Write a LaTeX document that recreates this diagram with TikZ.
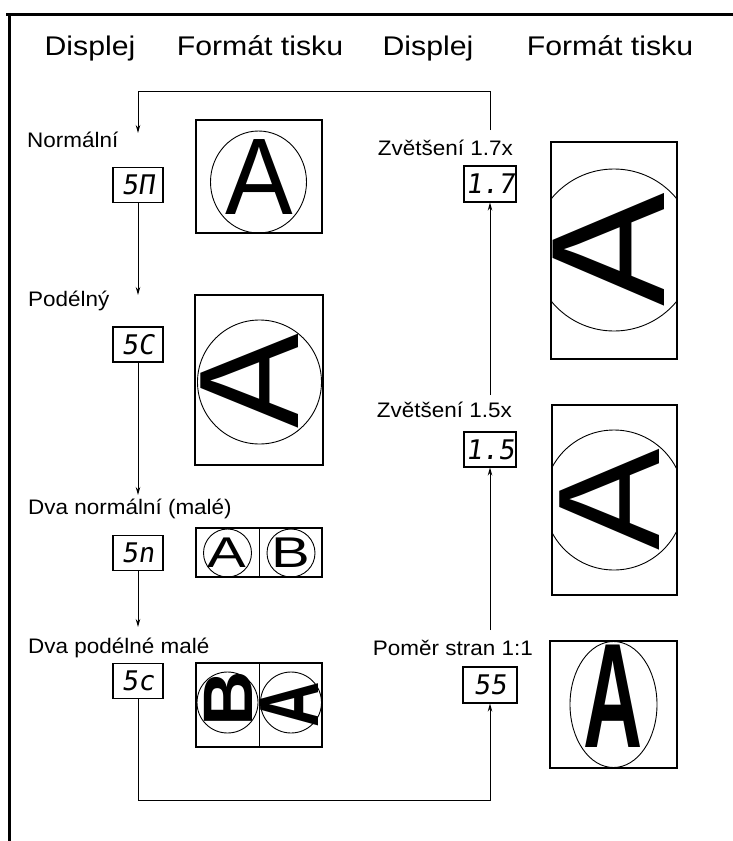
\documentclass[tikz,border=0pt]{standalone}
\usepackage{fontspec}
\setmainfont{Liberation Sans}
\newfontfamily\segfont[FakeSlant=0.15]{DejaVu Sans Mono}
\usetikzlibrary{arrows.meta}
\newcommand{\fsz}[1]{\fontsize{#1}{#1}\selectfont}
\tikzset{
  disp/.style={draw, line width=1.1pt, minimum width=50pt, minimum height=35pt, inner sep=0pt, font=\segfont\fsz{27}},
  pbox/.style={draw, line width=1.1pt, inner sep=0pt},
  lbl/.style={font=\fsz{21}, inner sep=0pt, xscale=1.07},
  hdr/.style={font=\fsz{27}, inner sep=0pt, xscale=1.12},
  conn/.style={line width=0.9pt},
  arr/.style={conn, -{Stealth[length=8pt,width=4.5pt]}},
  ring/.style={line width=0.9pt},
  glyph/.style={inner sep=0pt, outer sep=0pt},
  frame/.style={line width=3pt}
}
\begin{document}
\begin{tikzpicture}[x=1pt,y=-1pt]
\useasboundingbox (0,0) rectangle (733,841);
% frame
\draw[frame] (6,14) -- (733,14);
\draw[frame] (9,14) -- (9,841);
% headers
\node[hdr, anchor=base] (h1) at (90,55) {Displej};
\node[hdr, anchor=base] (h2) at (260,55) {Formát tisku};
\node[hdr, anchor=base] (h3) at (428,55) {Displej};
\node[hdr, anchor=base] (h4) at (610,55) {Formát tisku};
% left labels
\node[lbl, anchor=base west] (l1) at (27,147) {Normální};
\node[lbl, anchor=base west] (l2) at (28,306) {Podélný};
\node[lbl, anchor=base west] (l3) at (28,514) {Dva normální (malé)};
\node[lbl, anchor=base west] (l4) at (28,653) {Dva podélné malé};
% right labels
\node[lbl, anchor=base east] (r1) at (513,155) {Zvětšení 1.7x};
\node[lbl, anchor=base east] (r2) at (512,417) {Zvětšení 1.5x};
\node[lbl, anchor=base east] (r3) at (533,655) {Poměr stran 1:1};
% display boxes
\node[disp] (d1) at (138,185) {5П};
\node[disp] (d2) at (138,344.5) {5C};
\node[disp] (d3) at (138,553) {5n};
\node[disp] (d4) at (138,681) {5c};
\node[disp, minimum width=52pt, minimum height=36pt] (e1) at (490,184) {1.7};
\node[disp, minimum width=52pt] (e2) at (490,449.5) {1.5};
\node[disp, minimum width=54pt, minimum height=36pt] (e3) at (490,685) {55};
% print box 1
\node[pbox, minimum width=126pt, minimum height=113pt] (p1) at (259,176.5) {};
\draw[ring] (258.5,182) ellipse[x radius=48pt, y radius=51pt];
\node[glyph, font=\fsz{109}, xscale=0.93] (a1) at (259.5,177) {A};
% print box 2
\node[pbox, minimum width=128pt, minimum height=170pt] (p2) at (259,380) {};
\draw[ring] (259.5,382) circle[radius=62pt];
\node[glyph, font=\fsz{142}, rotate=90] (a2) at (250,381) {A};
% print box 3
\node[pbox, minimum width=126pt, minimum height=49pt] (p3) at (259,552.5) {};
\draw[conn] (p3.north) -- (p3.south);
\draw[ring] (227.5,553) circle[radius=24pt];
\draw[ring] (291,553) circle[radius=24pt];
\node[glyph, font=\fsz{43}, xscale=1.35] (a3) at (226.5,552.5) {A};
\node[glyph, font=\fsz{43}, xscale=1.35] (b3) at (291,552.5) {B};
% print box 4
\node[pbox, minimum width=126pt, minimum height=84pt] (p4) at (259,705) {};
\draw[conn] (p4.north) -- (p4.south);
\draw[ring] (227.5,702.5) circle[radius=30.5pt];
\draw[ring] (291,702.5) circle[radius=30.5pt];
\node[glyph, font=\fsz{70}\bfseries, rotate=90, xscale=1.1] (b4) at (228,699) {B};
\node[glyph, font=\fsz{84}\bfseries, rotate=90, xscale=0.75] (a4) at (290,704.5) {A};
% print box 5
\node[pbox, minimum width=126pt, minimum height=217pt] (p5) at (614,250.5) {};
\begin{scope}
\clip (551,142) rectangle (677,359);
\draw[ring] (614,250) circle[radius=81pt];
\end{scope}
\node[glyph, font=\fsz{162}, rotate=90, xscale=1.05] (a5) at (609,250) {A};
% print box 6
\node[pbox, minimum width=125pt, minimum height=190pt] (p6) at (614.5,500) {};
\begin{scope}
\clip (552,405) rectangle (677,595);
\draw[ring] (614,500) circle[radius=70pt];
\end{scope}
\node[glyph, font=\fsz{145}, rotate=90, xscale=1.05] (a6) at (610,500) {A};
% print box 7
\node[pbox, minimum width=127pt, minimum height=127pt] (p7) at (613.5,704.5) {};
\draw[ring] (613.5,704.5) ellipse[x radius=43.5pt, y radius=63pt];
\node[glyph, font=\fsz{149}\bfseries, xscale=0.55] (a7) at (613.5,696.5) {A};
% connector end points
\coordinate (t1) at (138,295);
\coordinate (t2) at (138,495);
\coordinate (t3) at (138,627);
\coordinate (t4) at (138,133);
\coordinate (s3) at (490,630);
\coordinate (s2) at (490,395);
\coordinate (s1) at (490,130);
\coordinate (k1) at (490,91);
\coordinate (k2) at (138,91);
\coordinate (k3) at (138,800);
\coordinate (k4) at (490,800);
% connectors
\draw[arr] (d1.south) -- (t1);
\draw[arr] (d2.south) -- (t2);
\draw[arr] (d3.south) -- (t3);
\draw[arr] (d4.south) -- (k3) -- (k4) -- (e3.south);
\draw[arr] (s3) -- (e2.south);
\draw[arr] (s2) -- (e1.south);
\draw[arr] (s1) -- (k1) -- (k2) -- (t4);
\end{tikzpicture}
\end{document}
